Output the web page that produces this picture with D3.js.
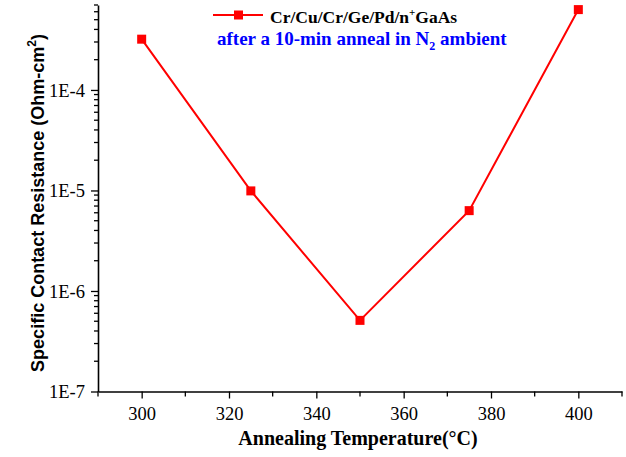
<!DOCTYPE html>
<html><head><meta charset="utf-8">
<script src="https://cdn.jsdelivr.net/npm/d3@7"></script>
<style>body{margin:0;background:#fff}svg{display:block}</style>
</head><body>
<svg id="c" width="626" height="457"></svg>
<script>
const temps = [300, 325, 350, 375, 400];
const resistance = [3.2e-4, 9.9e-6, 5.1e-7, 6.3e-6, 6.3e-4];
const xTicks = [300, 320, 340, 360, 380, 400];
const yTickLabels = ["1E-7", "1E-6", "1E-5", "1E-4"];
const yTickValues = [1e-7, 1e-6, 1e-5, 1e-4];
const seriesName = "Cr/Cu/Cr/Ge/Pd/n";

const svg = d3.select("#c");
const L = 98, R = 622, T = 5, B = 391.5;
const x = d3.scaleLinear().domain([290, 410]).range([L, R]);
const y = d3.scaleLog().domain([1e-7, 7e-4]).range([B, T]);

const xMinor = d3.range(290, 411, 10).filter(v => v % 20 !== 0);
const yMinor = [];
for (let e = -7; e <= -4; e++) for (let m = 2; m <= 9; m++) { const v = m * Math.pow(10, e); if (v <= 7.0001e-4) yMinor.push(v); }

const gx = svg.append("g").attr("transform", `translate(0,${B})`);
gx.call(d3.axisBottom(x).tickValues(xTicks).tickSize(7).tickSizeOuter(0).tickPadding(8).tickFormat(d3.format("d")));
gx.selectAll(".mnr").data(xMinor).enter().append("line")
  .attr("x1", d => x(d)).attr("x2", d => x(d)).attr("y1", 0).attr("y2", 5).attr("stroke", "#000").attr("stroke-width", 1.3);

const gy = svg.append("g").attr("transform", `translate(${L},0)`);
gy.call(d3.axisLeft(y).tickValues(yTickValues).tickSize(7).tickSizeOuter(0).tickPadding(6).tickFormat((d, i) => yTickLabels[i]));
gy.selectAll(".mnr").data(yMinor).enter().append("line")
  .attr("x1", 0).attr("x2", -4).attr("y1", d => y(d)).attr("y2", d => y(d)).attr("stroke", "#000").attr("stroke-width", 1.3);

[gx, gy].forEach(g => {
  g.select(".domain").attr("stroke", "#000").attr("stroke-width", 1.6);
  g.selectAll(".tick line").attr("stroke", "#000").attr("stroke-width", 1.3);
  g.selectAll(".tick text").attr("font-family", "'Liberation Serif','Times New Roman',serif").attr("font-size", 18.5).attr("fill", "#000");
});
gx.selectAll(".tick text").attr("dy", "0.71em");
gy.selectAll(".tick text").attr("dy", "0.35em");

const pts = temps.map((t, i) => [t, resistance[i]]);
svg.append("path").datum(pts)
  .attr("d", d3.line().x(d => x(d[0])).y(d => y(d[1])))
  .attr("fill", "none").attr("stroke", "#ff0000").attr("stroke-width", 2);
svg.selectAll(".pt").data(pts).enter().append("rect")
  .attr("x", d => x(d[0]) - 4.5).attr("y", d => y(d[1]) - 4.5).attr("width", 9).attr("height", 9).attr("fill", "#ff0000");

svg.append("line").attr("x1", 213).attr("x2", 263).attr("y1", 15).attr("y2", 15).attr("stroke", "#ff0000").attr("stroke-width", 2);
svg.append("rect").attr("x", 234).attr("y", 10.5).attr("width", 9).attr("height", 9).attr("fill", "#ff0000");
const lt = svg.append("text").attr("x", 270).attr("y", 22.5)
  .attr("font-family", "'Liberation Serif','Times New Roman',serif").attr("font-weight", "bold").attr("font-size", 17.5).attr("fill", "#000");
lt.append("tspan").text(seriesName);
lt.append("tspan").attr("dy", -7).attr("font-size", 11).text("+");
lt.append("tspan").attr("dy", 7).text("GaAs");

const bt = svg.append("text").attr("x", 217).attr("y", 45)
  .attr("font-family", "'Liberation Serif','Times New Roman',serif").attr("font-weight", "bold").attr("font-size", 19).attr("fill", "#0000ff");
bt.append("tspan").text("after a 10-min anneal in N");
bt.append("tspan").attr("dy", 5).attr("font-size", 12).text("2");
bt.append("tspan").attr("dy", -5).text(" ambient");

svg.append("text").attr("x", 358).attr("y", 445).attr("text-anchor", "middle")
  .attr("font-family", "'Liberation Serif','Times New Roman',serif").attr("font-weight", "bold").attr("font-size", 20)
  .text("Annealing Temperature(°C)");

const yt = svg.append("text").attr("transform", "translate(44,203) rotate(-90)").attr("text-anchor", "middle")
  .attr("font-family", "'Liberation Sans',Arial,sans-serif").attr("font-weight", "bold").attr("font-size", 18);
yt.append("tspan").text("Specific Contact Resistance (Ohm-cm");
yt.append("tspan").attr("dy", -8).attr("font-size", 12).text("2");
yt.append("tspan").attr("dy", 8).text(")");
</script>
</body></html>
